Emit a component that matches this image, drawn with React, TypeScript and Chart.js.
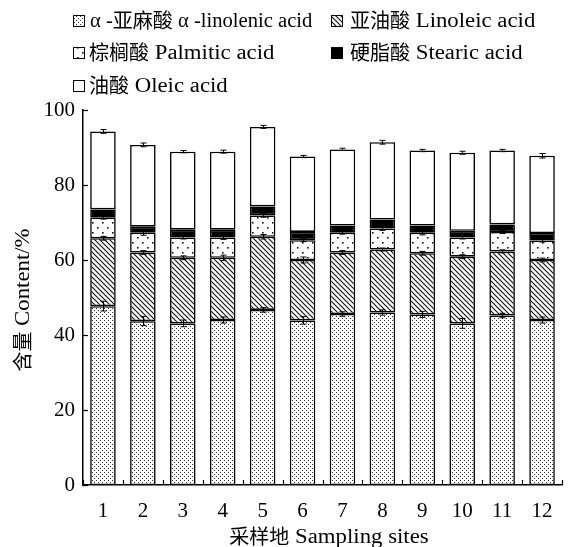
import React, { useEffect, useRef } from "react";
import { Chart, registerables } from "chart.js";

Chart.register(...registerables);

const sites = ["1", "2", "3", "4", "5", "6", "7", "8", "9", "10", "11", "12"];
const linolenic = [47.7, 43.7, 43.1, 44.0, 46.7, 43.9, 45.6, 46.0, 45.5, 43.1, 45.2, 44.0];
const linoleic = [18.1, 18.3, 17.5, 16.6, 19.5, 16.1, 16.4, 16.8, 16.3, 17.8, 17.1, 16.0];
const palmitic = [5.5, 5.3, 5.4, 5.4, 5.7, 5.3, 5.3, 5.6, 5.5, 5.1, 5.2, 5.2];
const stearic = [2.2, 1.6, 2.1, 2.1, 2.4, 2.2, 1.9, 2.4, 1.9, 1.8, 2.0, 2.0];
const oleic = [20.8, 21.8, 20.8, 20.8, 21.2, 20.1, 20.3, 20.6, 20.0, 20.8, 19.7, 20.6];

const linolenicErr = [1.3, 1.2, 0.9, 0.8, 0.6, 1.0, 0.6, 0.7, 0.8, 1.3, 0.6, 0.8];
const linoleicErr = [0.5, 0.5, 0.5, 0.7, 0.6, 0.8, 0.5, 0.4, 0.5, 0.5, 0.4, 0.5];
const palmiticErr = [0.4, 0.7, 0.4, 0.5, 0.5, 0.4, 0.4, 0.5, 0.6, 0.4, 0.4, 0.4];
const stearicErr = [0, 0, 0, 0, 0, 0, 0, 0, 0, 0, 0, 0];
const oleicErr = [0.5, 0.5, 0.3, 0.4, 0.4, 0.3, 0.3, 0.5, 0.3, 0.4, 0.3, 0.6];

const seriesNames = [
  "α -亚麻酸 α -linolenic acid",
  "亚油酸 Linoleic acid",
  "棕榈酸 Palmitic acid",
  "硬脂酸 Stearic acid",
  "油酸 Oleic acid",
];

const yTicks = [0, 20, 40, 60, 80, 100];
const xTitle = "采样地 Sampling sites";
const yTitle = "含量 Content/%";

const FONT_FAMILY = '"Liberation Serif", "Noto Sans CJK SC", serif';
const LATIN_FONT = '20px "Liberation Serif", serif';
const CJK_FONT = '20px "Noto Sans CJK SC", sans-serif';
const LATIN_STRETCH = 1.14;

function makePattern(kind: string): CanvasPattern | string {
  const c = document.createElement("canvas");
  const ctx = c.getContext("2d")!;
  if (kind === "denseDots") {
    c.width = 4;
    c.height = 4;
    ctx.fillStyle = "#fff";
    ctx.fillRect(0, 0, 4, 4);
    ctx.fillStyle = "#333";
    ctx.fillRect(0, 0, 1, 1);
    ctx.fillRect(2, 2, 1, 1);
  } else if (kind === "hatch") {
    c.width = 5;
    c.height = 5;
    ctx.fillStyle = "#fff";
    ctx.fillRect(0, 0, 5, 5);
    ctx.strokeStyle = "#111";
    ctx.lineWidth = 1.1;
    ctx.beginPath();
    ctx.moveTo(-1, -1);
    ctx.lineTo(6, 6);
    ctx.moveTo(-1, 4);
    ctx.lineTo(1, 6);
    ctx.moveTo(4, -1);
    ctx.lineTo(6, 1);
    ctx.stroke();
  } else if (kind === "sparseDots") {
    c.width = 10;
    c.height = 10;
    ctx.fillStyle = "#fff";
    ctx.fillRect(0, 0, 10, 10);
    ctx.fillStyle = "#111";
    ctx.fillRect(2, 2, 1.6, 1.6);
    ctx.fillRect(7, 7, 1.6, 1.6);
  }
  return ctx.createPattern(c, "repeat")!;
}

const CJK_RE = /([\u3000-\u9fff\uff00-\uffef]+)/;

function drawMixed(
  ctx: CanvasRenderingContext2D,
  text: string,
  x: number,
  y: number,
  align: "left" | "center",
  stretch: number = LATIN_STRETCH
) {
  const parts = text.split(CJK_RE).filter((p) => p.length > 0);
  const widths = parts.map((p) => {
    if (CJK_RE.test(p)) {
      ctx.font = CJK_FONT;
      return ctx.measureText(p).width;
    }
    ctx.font = LATIN_FONT;
    return ctx.measureText(p).width * stretch;
  });
  const total = widths.reduce((a, b) => a + b, 0);
  let cx = align === "center" ? x - total / 2 : x;
  ctx.textAlign = "left";
  ctx.textBaseline = "alphabetic";
  parts.forEach((p, i) => {
    if (CJK_RE.test(p)) {
      ctx.font = CJK_FONT;
      ctx.fillText(p, cx, y + 1);
    } else {
      ctx.font = LATIN_FONT;
      ctx.save();
      ctx.translate(cx, y);
      ctx.scale(stretch, 1);
      ctx.fillText(p, 0, 0);
      ctx.restore();
    }
    cx += widths[i];
  });
}

export default function App() {
  const ref = useRef<HTMLCanvasElement | null>(null);

  useEffect(() => {
    const canvas = ref.current;
    if (!canvas) return;
    const fills = [
      makePattern("denseDots"),
      makePattern("hatch"),
      makePattern("sparseDots"),
      "#000000",
      "#ffffff",
    ];
    const values = [linolenic, linoleic, palmitic, stearic, oleic];
    const errors = [linolenicErr, linoleicErr, palmiticErr, stearicErr, oleicErr];

    const errorBarPlugin = {
      id: "errorBars",
      afterDatasetsDraw(chart: any) {
        const ctx = chart.ctx;
        const xs = chart.scales.x;
        const ys = chart.scales.y;
        ctx.save();
        ctx.lineWidth = 1;
        ctx.strokeStyle = "#000";
        for (let d = 0; d < values.length; d++) {
          const err = errors[d];
          for (let i = 0; i < sites.length; i++) {
            if (!err[i]) continue;
            let top = 0;
            for (let k = 0; k <= d; k++) top += values[k][i];
            const x = Math.round(xs.getPixelForValue(i)) + 0.5;
            const y1 = ys.getPixelForValue(top + err[i]);
            const y2 = ys.getPixelForValue(top - err[i]);
            ctx.beginPath();
            ctx.moveTo(x, y1);
            ctx.lineTo(x, y2);
            ctx.moveTo(x - 3, y1);
            ctx.lineTo(x + 3, y1);
            ctx.moveTo(x - 3, y2);
            ctx.lineTo(x + 3, y2);
            ctx.stroke();
          }
        }
        ctx.restore();
      },
    };

    const axisExtrasPlugin = {
      id: "axisExtras",
      afterDraw(chart: any) {
        const ctx = chart.ctx;
        const xs = chart.scales.x;
        const ys = chart.scales.y;
        const area = chart.chartArea;
        ctx.save();
        ctx.strokeStyle = "#000";
        ctx.lineWidth = 1.2;
        for (const v of yTicks) {
          const y = Math.round(ys.getPixelForValue(v)) + 0.5;
          ctx.beginPath();
          ctx.moveTo(area.left, y);
          ctx.lineTo(area.left + 5, y);
          ctx.stroke();
        }
        for (let i = 0; i <= sites.length; i++) {
          const x = Math.round(xs.getPixelForValue(i - 0.5)) + 0.5;
          ctx.beginPath();
          ctx.moveTo(x, area.bottom);
          ctx.lineTo(x, area.bottom - 5);
          ctx.stroke();
        }
        ctx.fillStyle = "#000";
        drawMixed(ctx, xTitle, 329, 543, "center");
        ctx.save();
        ctx.translate(29, 300);
        ctx.rotate(-Math.PI / 2);
        drawMixed(ctx, yTitle, 0, 0, "center");
        ctx.restore();

        const pos = [
          [73, 20, 90, 1.03],
          [331, 20, 350, LATIN_STRETCH],
          [73, 52, 89, LATIN_STRETCH],
          [331, 52, 350, LATIN_STRETCH],
          [73, 85, 89, LATIN_STRETCH],
        ];
        for (let s = 0; s < seriesNames.length; s++) {
          const [bx, by, tx, st] = pos[s];
          ctx.fillStyle = fills[s] as any;
          ctx.fillRect(bx, by - 5, 11, 11);
          ctx.lineWidth = 1;
          ctx.strokeStyle = "#000";
          ctx.strokeRect(bx + 0.5, by - 4.5, 11, 11);
          ctx.fillStyle = "#000";
          drawMixed(ctx, seriesNames[s], tx, by + 7, "left", st);
        }
        ctx.restore();
      },
    };

    const chart = new Chart(canvas, {
      type: "bar",
      data: {
        labels: sites,
        datasets: values.map((v, i) => ({
          label: seriesNames[i],
          data: v,
          backgroundColor: fills[i] as any,
          borderColor: "#000",
          borderWidth: 1.6,
          borderSkipped: false,
          barPercentage: 0.64,
          categoryPercentage: 1,
        })),
      },
      options: {
        responsive: false,
        animation: false,
        devicePixelRatio: 1,
        layout: { padding: { left: 0, right: 11, top: 110, bottom: 0 } },
        plugins: {
          legend: { display: false },
          tooltip: { enabled: false },
        },
        scales: {
          x: {
            stacked: true,
            grid: { display: false, drawTicks: false },
            border: { display: true, color: "#000", width: 1.5 },
            ticks: {
              color: "#000",
              font: { family: FONT_FAMILY, size: 21 },
              padding: 14,
              maxRotation: 0,
            },
            afterFit: (s: any) => {
              s.height = 62;
            },
          },
          y: {
            stacked: true,
            min: 0,
            max: 100,
            grid: { display: false, drawTicks: false },
            border: { display: true, color: "#000", width: 1.5 },
            ticks: {
              stepSize: 20,
              color: "#000",
              font: { family: FONT_FAMILY, size: 21 },
              padding: 8,
            },
            afterFit: (s: any) => {
              s.width = 83;
            },
          },
        },
      },
      plugins: [errorBarPlugin, axisExtrasPlugin],
    });
    return () => chart.destroy();
  }, []);

  return (
    <div style={{ position: "absolute", left: 0, top: 0, width: 573, height: 547, background: "#fff" }}>
      <canvas ref={ref} width={573} height={547} style={{ display: "block", width: 573, height: 547 }} />
    </div>
  );
}
